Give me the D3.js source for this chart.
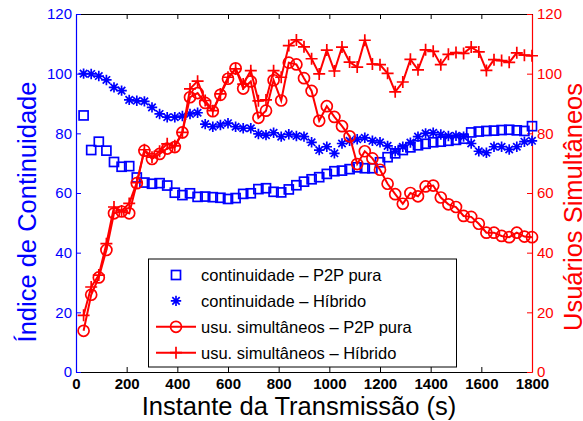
<!DOCTYPE html>
<html>
<head>
<meta charset="utf-8">
<script src="https://cdn.jsdelivr.net/npm/d3@7"></script>
<style>
  body { margin: 0; background: #ffffff; }
  svg { display: block; font-family: "Liberation Sans", Arial, sans-serif; }
</style>
</head>
<body>
<svg width="583" height="421"></svg>
<script>
// instants (s)
var tempos = [30, 60, 90, 120, 150, 180, 210, 240, 270, 300,
  330, 360, 390, 420, 450, 480, 510, 540, 570, 600,
  630, 660, 690, 720, 750, 780, 810, 840, 870, 900,
  930, 960, 990, 1020, 1050, 1080, 1110, 1140, 1170, 1200,
  1230, 1260, 1290, 1320, 1350, 1380, 1410, 1440, 1470, 1500,
  1530, 1560, 1590, 1620, 1650, 1680, 1710, 1740, 1770, 1800];

// continuidade - P2P pura (squares, left axis)
var contP2P = [86, 74.4, 77.2, 74.2, 70.4, 68.8, 69, 65.2, 63.5, 63.1,
  63.3, 62.5, 60.1, 59.3, 59.9, 58.7, 58.8, 58.6, 58.4, 58,
  58.3, 59.7, 59.9, 61.3, 61.6, 60.4, 60.2, 61.2, 62.6, 63.8,
  64.6, 65.3, 66.4, 67.3, 67.5, 68, 68.6, 68.3, 68.3, 70.3,
  72, 73.3, 74.4, 75.3, 76, 76.5, 77, 77.2, 77.5, 77.8,
  78.2, 80.3, 80.6, 80.8, 80.9, 81.1, 81.2, 81, 80.8, 82.4];

// continuidade - Hibrido (stars, left axis)
var contHib = [100, 99.9, 99.2, 97.9, 95.4, 94.3, 91.2, 90.9, 90.7, 88.7,
  86.5, 85.4, 85.4, 85.8, 86.5, 86.9, 83.1, 82.2, 82.8, 83.4,
  82.2, 81.7, 81.7, 79.8, 79.4, 80.2, 78.9, 79.7, 79.1, 78.9,
  77, 74.4, 75.5, 73.3, 76.6, 77.5, 78, 78.5, 77.5, 77,
  75.8, 74, 75.5, 76.9, 78.9, 80, 80.2, 79.6, 79.1, 79.2,
  78.9, 76.6, 74, 73.5, 75.5, 75.5, 74.6, 75.5, 77.2, 77.5];

// usuarios simultaneos - P2P pura (circles, right axis)
var usuP2P = [13.8, 25.9, 31.7, 40.9, 53.2, 53.8, 53.2, 63.3, 74.2, 71.4,
  73.1, 74.9, 75.4, 80.3, 92.1, 93.5, 90.2, 87.4, 92.9, 98.3,
  101.8, 95, 97.4, 85.2, 87.6, 97.8, 91, 103.7, 103.1, 98.5,
  94.2, 84.2, 89.1, 85.5, 82.4, 79, 69.7, 74, 71.6, 67.8,
  63.1, 59.6, 56.4, 60, 58.9, 62.2, 62.5, 58.5, 56.2, 55.3,
  52.3, 52, 49.7, 46.7, 46.7, 45.6, 45.2, 46.7, 45.4, 45.2];

// usuarios simultaneos - Hibrido (plus, right axis)
var usuHib = [19, 28.5, 32.5, 43, 55.3, 54, 56.5, 63.5, 74.5, 72,
  74, 76.5, 75.8, 80.3, 94.9, 97.5, 91, 87.6, 93.2, 98.8,
  101.6, 96.5, 101, 90.9, 91.2, 101, 98.8, 109.4, 111.3, 109,
  105, 99.9, 107.9, 100.9, 108.9, 103.9, 102.2, 111.2, 103.2, 103,
  100.1, 93.9, 97.2, 104.8, 101.3, 108, 107.5, 103, 106.5, 107.1,
  106.8, 108.9, 107.3, 101.1, 104.7, 104.4, 103.8, 107, 106.2, 106];

var xTicks = [0, 200, 400, 600, 800, 1000, 1200, 1400, 1600, 1800];
var yTicks = [0, 20, 40, 60, 80, 100, 120];

var legendLabels = ['continuidade \u2013 P2P pura', 'continuidade \u2013 H\u00edbrido',
  'usu. simult\u00e2neos \u2013 P2P pura', 'usu. simult\u00e2neos \u2013 H\u00edbrido'];

var azul = '#0000ff';
var vermelho = '#ff0000';

var plotLeft = 76, plotRight = 532, plotTop = 14, plotBottom = 372;

var svg = d3.select('svg');

var x = d3.scaleLinear().domain([0, 1800]).range([plotLeft, plotRight]);
var yL = d3.scaleLinear().domain([0, 120]).range([plotBottom, plotTop]);
var yR = d3.scaleLinear().domain([0, 120]).range([plotBottom, plotTop]);
var fmt = d3.format('d');

// axes (MATLAB style, ticks pointing in)
var gx = svg.append('g')
  .attr('transform', 'translate(0,' + plotBottom + ')')
  .call(d3.axisBottom(x).tickValues(xTicks).tickFormat(fmt).tickSizeInner(-5).tickSizeOuter(0).tickPadding(6));
gx.selectAll('text').style('font-size', '15px').style('font-weight', 'bold').attr('fill', '#000');

svg.append('g')
  .attr('transform', 'translate(0,' + plotTop + ')')
  .call(d3.axisTop(x).tickValues(xTicks).tickSizeInner(-5).tickSizeOuter(0).tickFormat(''));

var gl = svg.append('g')
  .attr('transform', 'translate(' + plotLeft + ',0)')
  .call(d3.axisLeft(yL).tickValues(yTicks).tickFormat(fmt).tickSizeInner(-5).tickSizeOuter(0).tickPadding(4));
gl.selectAll('text').style('font-size', '15px').attr('fill', azul);
gl.selectAll('line').attr('stroke', azul);
gl.select('.domain').attr('stroke', azul);

var gr = svg.append('g')
  .attr('transform', 'translate(' + plotRight + ',0)')
  .call(d3.axisRight(yR).tickValues(yTicks).tickFormat(fmt).tickSizeInner(-5).tickSizeOuter(0).tickPadding(5));
gr.selectAll('text').style('font-size', '15px').attr('fill', vermelho);
gr.selectAll('line').attr('stroke', vermelho);
gr.select('.domain').attr('stroke', vermelho);

svg.selectAll('.domain').attr('stroke-width', 1.2);

// axis titles
svg.append('text')
  .attr('transform', 'translate(36,212) rotate(-90)')
  .attr('text-anchor', 'middle')
  .attr('fill', azul)
  .style('font-size', '25.5px')
  .text('\u00cdndice de Continuidade');

svg.append('text')
  .attr('transform', 'translate(582,207) rotate(-90)')
  .attr('text-anchor', 'middle')
  .attr('fill', vermelho)
  .style('font-size', '25.5px')
  .text('Usu\u00e1rios Simult\u00e2neos');

svg.append('text')
  .attr('x', 299)
  .attr('y', 415)
  .attr('text-anchor', 'middle')
  .attr('fill', '#000')
  .style('font-size', '25.5px')
  .text('Instante da Transmiss\u00e3o (s)');

// marker drawing
function drawMarker(g, tipo, cx, cy, cor) {
  if (tipo == 'square') {
    g.append('rect').attr('x', cx - 4.5).attr('y', cy - 4.5).attr('width', 9).attr('height', 9)
      .attr('fill', 'none').attr('stroke', cor).attr('stroke-width', 1.7);
  } else if (tipo == 'circle') {
    g.append('circle').attr('cx', cx).attr('cy', cy).attr('r', 5.5)
      .attr('fill', 'none').attr('stroke', cor).attr('stroke-width', 1.7);
  } else if (tipo == 'plus') {
    g.append('path').attr('d', 'M' + (cx - 6) + ',' + cy + 'H' + (cx + 6) + 'M' + cx + ',' + (cy - 6) + 'V' + (cy + 6))
      .attr('stroke', cor).attr('stroke-width', 1.7);
  } else if (tipo == 'star') {
    var a = 5.2, b = 3.7;
    g.append('path')
      .attr('d', 'M' + (cx - a) + ',' + cy + 'H' + (cx + a) + 'M' + cx + ',' + (cy - a) + 'V' + (cy + a) +
        'M' + (cx - b) + ',' + (cy - b) + 'L' + (cx + b) + ',' + (cy + b) +
        'M' + (cx - b) + ',' + (cy + b) + 'L' + (cx + b) + ',' + (cy - b))
      .attr('stroke', cor).attr('stroke-width', 1.7);
  }
}

function drawSeries(valores, escala, tipo, cor, comLinha) {
  var g = svg.append('g');
  var pts = tempos.map(function(t, i) { return [x(t), escala(valores[i])]; });
  if (comLinha) {
    g.append('path')
      .attr('d', d3.line()(pts))
      .attr('fill', 'none')
      .attr('stroke', cor)
      .attr('stroke-width', 2);
  }
  pts.forEach(function(p) { drawMarker(g, tipo, p[0], p[1], cor); });
}

drawSeries(contP2P, yL, 'square', azul, false);
drawSeries(contHib, yL, 'star', azul, false);
drawSeries(usuP2P, yR, 'circle', vermelho, true);
drawSeries(usuHib, yR, 'plus', vermelho, true);

// legend
var leg = svg.append('g');
leg.append('rect')
  .attr('x', 148.5).attr('y', 259).attr('width', 308).attr('height', 108)
  .attr('fill', '#fff').attr('stroke', '#000').attr('stroke-width', 1);

var legTipos = ['square', 'star', 'circle', 'plus'];
var legCores = [azul, azul, vermelho, vermelho];
var legLinha = [false, false, true, true];

legendLabels.forEach(function(lbl, i) {
  var cy = 275 + i * 25.9;
  if (legLinha[i]) {
    leg.append('line').attr('x1', 156).attr('x2', 196).attr('y1', cy).attr('y2', cy)
      .attr('stroke', legCores[i]).attr('stroke-width', 2);
  }
  drawMarker(leg, legTipos[i], 176, cy, legCores[i]);
  leg.append('text')
    .attr('x', 201)
    .attr('y', cy + 6)
    .attr('fill', '#000')
    .style('font-size', '16.5px')
    .text(lbl);
});
</script>
</body>
</html>
